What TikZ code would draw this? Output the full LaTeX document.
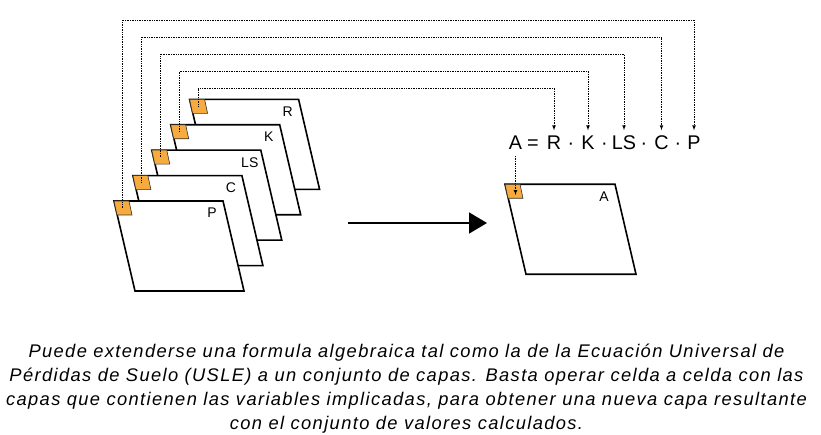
\documentclass[tikz,border=0pt]{standalone}
\usepackage{fontspec}
\setmainfont{Liberation Sans}
\newfontfamily\captionfont[LetterSpace=7.5]{Liberation Sans}
\usetikzlibrary{arrows,arrows.meta,calc}

\definecolor{cellorange}{RGB}{247,170,62}

\tikzset{
  layer/.style={draw=black,line width=1.6pt,fill=white,line join=miter},
  cell/.style={draw=black!80,line width=0.6pt,fill=cellorange},
  lbl/.style={font=\fontsize{14}{16}\selectfont,inner sep=0pt},
  eq/.style={font=\fontsize{19.8}{24}\selectfont,inner sep=0pt,outer ysep=6pt,anchor=base},
  link/.style={densely dotted,line width=0.7pt,->},
}

\begin{document}
\begin{tikzpicture}[x=1pt,y=-1pt,>=latex]

\useasboundingbox (0,0) rectangle (821,435);

% equation
\foreach \n/\t/\x in {A/A/515.5,eqs/=/533,R/R/554,d1/·/571,K/K/588,d2/·/604.5,LS/LS/624,d3/·/644,C/C/661.5,d4/·/678,P/P/694}{
	\node[eq] (eq\n) at (\x,150) {\t};
}

% stack of layers, back to front
\foreach \i/\lab in {4/R,3/K,2/LS,1/C,0/P}{
	\pgfmathsetmacro\xo{114+18.9*\i}
	\pgfmathsetmacro\yo{201-25.4*\i}
	\draw[layer] (\xo,\yo) -- ++(109,0) -- ++(21,90) -- ++(-109,0) -- cycle;
	\draw[cell] (\xo,\yo) -- ++(15,0) -- ++(3,14) -- ++(-15,0) -- cycle;
	\coordinate (cell\lab) at (\xo+8.5,\yo+7);
	\node[lbl] (lab\lab) at (\xo+98,\yo+12) {\lab};
}

% dotted links to the equation
\foreach \lab/\h in {P/20,C/37,LS/54,K/71,R/88}{
	\draw[link] (cell\lab) -- (cell\lab |- 0,\h) -| (eq\lab.north);
}

% result layer
\draw[layer] (505,184.3) -- ++(110,0) -- ++(21,90) -- ++(-110,0) -- cycle;
\draw[cell] (505,184.3) -- ++(15,0) -- ++(3,14) -- ++(-15,0) -- cycle;
\coordinate (cellA) at (514,195);
\node[lbl] (labA) at (604,197) {A};
\draw[link] (eqA.south) -- (eqA.south |- cellA);

% big arrow
\coordinate (arrowstart) at (348,223);
\coordinate (arrowend) at (487,223);
\draw[line width=1.6pt,-{Triangle[length=18pt,width=21pt]}] (arrowstart) -- (arrowend);

\node[font=\captionfont\fontsize{18.3}{24}\selectfont\itshape,align=center,anchor=base,inner sep=0pt] (caption) at (406.5,429)
{Puede extenderse una formula algebraica tal como la de la Ecuación Universal de\\
Pérdidas de Suelo (USLE) a un conjunto de capas. Basta operar celda a celda con las\\
capas que contienen las variables implicadas, para obtener una nueva capa resultante\\
con el conjunto de valores calculados.};

\end{tikzpicture}
\end{document}
